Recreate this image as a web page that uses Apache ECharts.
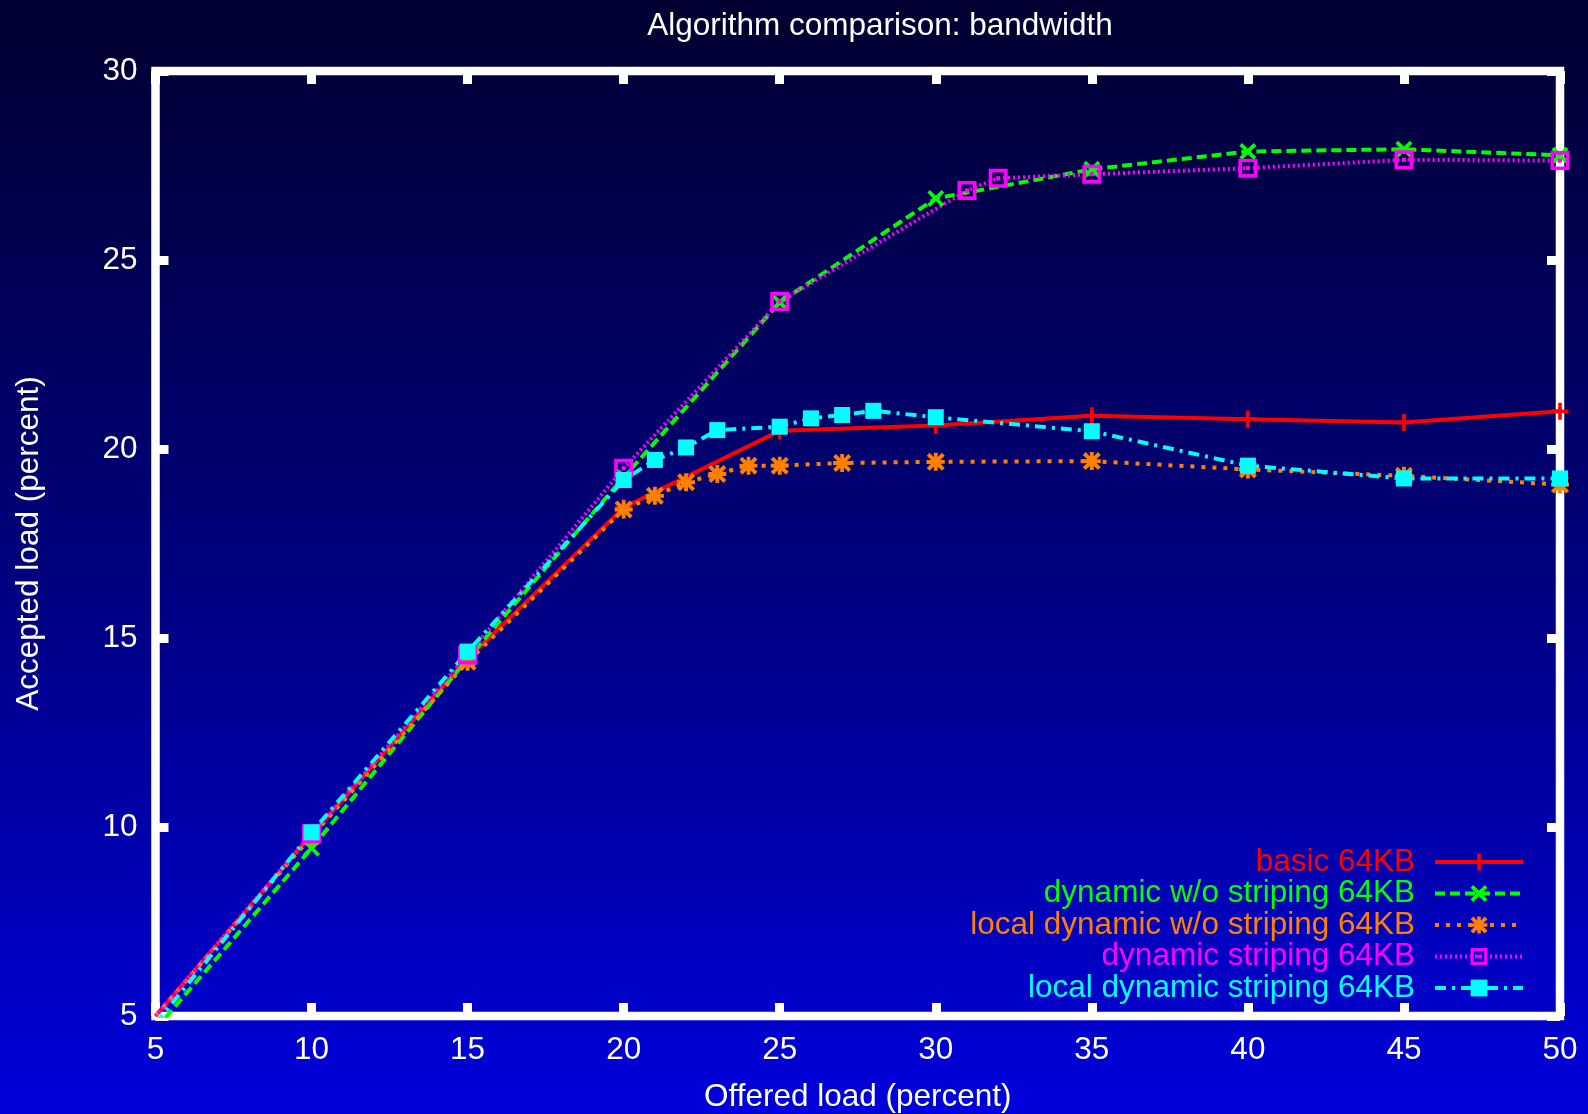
<!DOCTYPE html>
<html><head><meta charset="utf-8">
<script src="https://cdn.jsdelivr.net/npm/echarts@6/dist/echarts.min.js"></script>
<style>
html,body{margin:0;padding:0;}
#c{width:1588px;height:1114px;background:linear-gradient(to bottom,#000030 0%,#00007c 50%,#0000dc 100%);}
</style></head><body><div id="c"></div>
<script>
const titleText = 'Algorithm comparison: bandwidth';
const xAxisName = 'Offered load (percent)';
const yAxisName = 'Accepted load (percent)';
const seriesNames = ['basic 64KB', 'dynamic w/o striping 64KB', 'local dynamic w/o striping 64KB', 'dynamic striping 64KB', 'local dynamic striping 64KB'];

const basicX = [5, 10, 15, 20, 25, 30, 35, 40, 45, 50];
const basicY = [5.0, 9.8, 14.45, 18.45, 20.48, 20.62, 20.88, 20.79, 20.70, 21.0];

const dynX = [5, 10, 15, 20, 25, 30, 35, 40, 45, 50];
const dynY = [4.65, 9.44, 14.45, 19.25, 23.88, 26.63, 27.40, 27.87, 27.93, 27.77];

const localDynX = [5, 10, 15, 20, 21, 22, 23, 24, 25, 27, 30, 35, 40, 45, 50];
const localDynY = [5.0, 9.75, 14.37, 18.40, 18.76, 19.12, 19.34, 19.56, 19.56, 19.63, 19.66, 19.68, 19.46, 19.29, 19.06];

const stripX = [5, 10, 15, 20, 25, 31, 32, 35, 40, 45, 50];
const stripY = [5.0, 9.82, 14.55, 19.49, 23.90, 26.84, 27.16, 27.27, 27.43, 27.65, 27.63];

const localStripX = [5, 10, 15, 20, 21, 22, 23, 25, 26, 27, 28, 30, 35, 40, 45, 50];
const localStripY = [4.8, 9.86, 14.64, 19.18, 19.71, 20.04, 20.50, 20.59, 20.81, 20.90, 21.01, 20.84, 20.47, 19.56, 19.22, 19.22];

const xTicks = [5, 10, 15, 20, 25, 30, 35, 40, 45, 50];
const yTicks = [5, 10, 15, 20, 25, 30];

const FONT = '"Liberation Sans", Arial, Helvetica, sans-serif';
const FS = 31.5;
const colors = ['#ff0000', '#00ff00', '#ff8000', '#ff00ff', '#00ffff'];
const dashes = ['solid', [10, 5], [4, 7], [2, 3], [11, 6, 3, 6]];
const SYM_PLUS = 'path://M-1.5,-7H1.5V-1.5H7V1.5H1.5V7H-1.5V1.5H-7V-1.5H-1.5Z';
const SYM_X = 'path://M-7,-4.8L-4.8,-7L0,-2.2L4.8,-7L7,-4.8L2.2,0L7,4.8L4.8,7L0,2.2L-4.8,7L-7,4.8L-2.2,0Z';
const SYM_STAR = 'path://M-1.5,-7H1.5V-1.5H7V1.5H1.5V7H-1.5V1.5H-7V-1.5H-1.5Z M-7,-4.8L-4.8,-7L0,-2.2L4.8,-7L7,-4.8L2.2,0L7,4.8L4.8,7L0,2.2L-4.8,7L-7,4.8L-2.2,0Z';
const SYM_BOX = 'path://M-7,-7H7V7H-7Z M-4.3,-4.3V4.3H4.3V-4.3Z M-1.5,-1.5H1.5V1.5H-1.5Z';
const symbols = [SYM_PLUS, SYM_X, SYM_STAR, SYM_BOX, 'rect'];
const symSizes = [17, 17, 18, 19, 16];

const xs = [basicX, dynX, localDynX, stripX, localStripX];
const ys = [basicY, dynY, localDynY, stripY, localStripY];

function build(xArr, yArr) {
  return xArr.map((x, i) => x <= 5 ? { value: [x, yArr[i]], symbol: 'none' } : [x, yArr[i]]);
}

const series = seriesNames.map((name, i) => ({
  name: name,
  type: 'line',
  xAxisIndex: 0,
  yAxisIndex: 0,
  data: build(xs[i], ys[i]),
  symbol: symbols[i],
  symbolSize: symSizes[i],
  showAllSymbol: true,
  clip: true,
  lineStyle: { color: colors[i], width: 4, type: dashes[i], cap: 'butt' },
  itemStyle: { color: colors[i] },
  emphasis: { disabled: true },
  animation: false
}));

const rowCenters = [862, 893.5, 925, 956.5, 988];
const legends = seriesNames.map((name, i) => ({
  data: [name],
  orient: 'horizontal',
  right: 63,
  top: rowCenters[i] - 16,
  padding: 0,
  align: 'right',
  itemWidth: 88,
  itemHeight: 21,
  selectedMode: false,
  textStyle: { color: colors[i], fontSize: FS, fontFamily: FONT, padding: [0, 15, 0, 0] },
  lineStyle: { width: 4, type: dashes[i], color: colors[i] },
  itemStyle: { color: colors[i] }
}));

const axisCommonX = {
  type: 'value', min: 5, max: 50, interval: 5,
  splitLine: { show: false },
  axisLine: { show: false },
  axisTick: { show: true, inside: true, length: 13, lineStyle: { color: '#ffffff', width: 9 } }
};
const axisCommonY = {
  type: 'value', min: 5, max: 30, interval: 5,
  splitLine: { show: false },
  axisLine: { show: false },
  axisTick: { show: true, inside: true, length: 13, lineStyle: { color: '#ffffff', width: 9 } }
};

const option = {
  backgroundColor: 'transparent',
  animation: false,
  title: {
    text: titleText, left: 875, top: 5, textAlign: 'center',
    textStyle: { color: '#ffffff', fontSize: FS, fontWeight: 'normal', fontFamily: FONT }
  },
  legend: legends,
  grid: {
    left: 155.5, right: 28, top: 71, bottom: 98,
    outerBoundsMode: 'none', containLabel: false,
    show: true, borderColor: '#ffffff', borderWidth: 8.5, backgroundColor: 'transparent'
  },
  xAxis: [
    Object.assign({}, axisCommonX, {
      position: 'bottom',
      name: xAxisName, nameLocation: 'middle', nameGap: 65,
      nameTextStyle: { color: '#ffffff', fontSize: FS, fontFamily: FONT },
      axisLabel: { color: '#ffffff', fontSize: FS, fontFamily: FONT, margin: 18,
        formatter: v => xTicks.indexOf(v) >= 0 ? String(v) : '' }
    }),
    Object.assign({}, axisCommonX, { position: 'top', axisLabel: { show: false } })
  ],
  yAxis: [
    Object.assign({}, axisCommonY, {
      position: 'left',
      name: yAxisName, nameLocation: 'middle', nameGap: 110, nameRotate: 90,
      nameTextStyle: { color: '#ffffff', fontSize: FS, fontFamily: FONT },
      axisLabel: { color: '#ffffff', fontSize: FS, fontFamily: FONT, margin: 18,
        formatter: v => yTicks.indexOf(v) >= 0 ? String(v) : '' }
    }),
    Object.assign({}, axisCommonY, { position: 'right', axisLabel: { show: false } })
  ],
  series: series
};

const chart = echarts.init(document.getElementById('c'), null, { renderer: 'canvas' });
chart.setOption(option);
</script>
</body></html>
